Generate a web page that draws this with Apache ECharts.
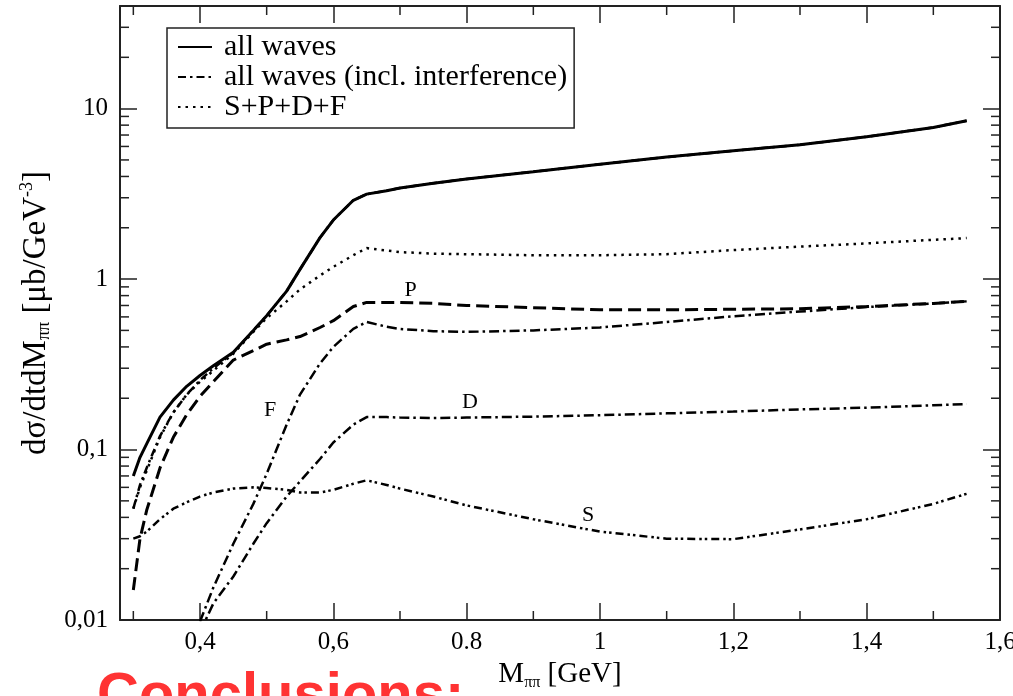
<!DOCTYPE html>
<html>
<head>
<meta charset="utf-8">
<script src="https://cdn.jsdelivr.net/npm/echarts@6/dist/echarts.min.js"></script>
<style>
  html, body { margin: 0; padding: 0; background: #fff; }
  #chart { width: 1013px; height: 696px; }
</style>
</head>
<body>
<div id="chart"></div>
<script>
// M_pipi grid (GeV)
const mass = [0.3, 0.31, 0.32, 0.34, 0.36, 0.38, 0.4, 0.42, 0.45, 0.48, 0.5, 0.53, 0.55, 0.58, 0.6,
  0.63, 0.65, 0.68, 0.7, 0.75, 0.8, 0.9, 1.0, 1.1, 1.2, 1.3, 1.4, 1.5, 1.55]

// cross sections (mub/GeV^3)
const allWaves = [0.070, 0.090, 0.108, 0.155, 0.195, 0.235, 0.272, 0.31, 0.372, 0.50, 0.61, 0.85, 1.14, 1.75, 2.22,
  2.9, 3.15, 3.3, 3.42, 3.65, 3.87, 4.26, 4.72, 5.2, 5.66, 6.14, 6.84, 7.75, 8.5]
const allWavesInterf = [0.045, 0.062, 0.078, 0.12, 0.165, 0.21, 0.255, 0.30, 0.37, 0.50, 0.61, 0.85, 1.14, 1.75, 2.22,
  2.9, 3.15, 3.3, 3.42, 3.65, 3.87, 4.26, 4.72, 5.2, 5.66, 6.14, 6.84, 7.75, 8.5]
const spdf = [0.045, 0.06, 0.075, 0.118, 0.165, 0.21, 0.25, 0.29, 0.365, 0.49, 0.59, 0.74, 0.87, 1.05, 1.18,
  1.38, 1.52, 1.47, 1.44, 1.41, 1.40, 1.38, 1.38, 1.40, 1.48, 1.55, 1.62, 1.70, 1.74]
const pWave = [0.015, 0.030, 0.044, 0.078, 0.118, 0.16, 0.205, 0.25, 0.335, 0.38, 0.415, 0.44, 0.46, 0.52, 0.57,
  0.69, 0.73, 0.73, 0.73, 0.72, 0.70, 0.68, 0.66, 0.66, 0.665, 0.67, 0.69, 0.72, 0.74]
const fWave = [null, null, null, null, null, null, 0.0098, 0.0155, 0.028, 0.048, 0.072, 0.14, 0.21, 0.32, 0.40,
  0.51, 0.56, 0.525, 0.51, 0.495, 0.49, 0.50, 0.52, 0.56, 0.605, 0.645, 0.685, 0.72, 0.74]
const dWave = [null, null, null, null, null, null, 0.0085, 0.0125, 0.018, 0.028, 0.037, 0.053, 0.065, 0.088, 0.11,
  0.14, 0.155, 0.155, 0.154, 0.153, 0.154, 0.156, 0.159, 0.163, 0.167, 0.172, 0.176, 0.182, 0.185]
const sWave = [0.030, 0.031, 0.033, 0.039, 0.045, 0.049, 0.053, 0.056, 0.059, 0.060, 0.0595, 0.058, 0.056, 0.056, 0.058,
  0.063, 0.066, 0.062, 0.059, 0.053, 0.047, 0.039, 0.033, 0.030, 0.0298, 0.034, 0.039, 0.048, 0.055]

// axes
const xTickValues = [0.4, 0.6, 0.8, 1, 1.2, 1.4, 1.6]
const xTickLabels = ['0,4', '0,6', '0.8', '1', '1,2', '1,4', '1,6']
const xMinorTicks = [0.3, 0.5, 0.7, 0.9, 1.1, 1.3, 1.5]
const yTickValues = [0.01, 0.1, 1, 10]
const yTickLabels = ['0,01', '0,1', '1', '10']
const yMinorTicks = [0.02, 0.03, 0.04, 0.05, 0.06, 0.07, 0.08, 0.09, 0.2, 0.3, 0.4, 0.5, 0.6, 0.7, 0.8, 0.9,
  2, 3, 4, 5, 6, 7, 8, 9, 20, 30]

const X_MIN = 0.28
const X_MAX = 1.6
const Y_MIN = 0.01
const Y_MAX = 40

const SERIF = '"Liberation Serif", "DejaVu Serif", serif'
const INK = '#222'

function pick(values, labels) {
  return function(v) {
    const i = values.findIndex(t => Math.abs(v - t) < Math.abs(t) * 1e-6)
    return i < 0 ? '' : labels[i]
  }
}

function pairs(ys) {
  return mass.map((x, i) => [x, ys[i]])
}

function curve(name, ys, width, type) {
  return {
    name: name,
    type: 'line',
    data: pairs(ys),
    showSymbol: false,
    symbol: 'none',
    connectNulls: false,
    lineStyle: { color: '#000', width: width, type: type },
    itemStyle: { color: '#000' }
  }
}

function waveLabel(series, text, coord) {
  series.markPoint = {
    symbol: 'rect',
    symbolSize: 1,
    itemStyle: { color: 'rgba(0,0,0,0)' },
    label: {
      show: true,
      position: 'inside',
      formatter: text,
      color: '#000',
      fontSize: 22,
      fontFamily: SERIF
    },
    data: [{ coord: coord }]
  }
  return series
}

const tickStyle = { stroke: INK, lineWidth: 1.5 }

function yMinorItem(params, api) {
  const v = api.value(1)
  const a = api.coord([X_MIN, v])
  const b = api.coord([X_MAX, v])
  return {
    type: 'group',
    children: [
      { type: 'line', shape: { x1: a[0], y1: a[1], x2: a[0] + 9, y2: a[1] }, style: tickStyle },
      { type: 'line', shape: { x1: b[0] - 9, y1: b[1], x2: b[0], y2: b[1] }, style: tickStyle }
    ]
  }
}

function xMinorItem(params, api) {
  const x = api.value(0)
  const a = api.coord([x, Y_MIN])
  const b = api.coord([x, Y_MAX])
  return {
    type: 'group',
    children: [
      { type: 'line', shape: { x1: a[0], y1: a[1], x2: a[0], y2: a[1] - 9 }, style: tickStyle },
      { type: 'line', shape: { x1: b[0], y1: b[1], x2: b[0], y2: b[1] + 9 }, style: tickStyle }
    ]
  }
}

const chart = echarts.init(document.getElementById('chart'), null, { renderer: 'canvas' })

const axisLine = { show: true, onZero: false, lineStyle: { color: INK, width: 2 } }
const majorTick = { show: true, inside: true, length: 17, lineStyle: { color: INK, width: 1.5 } }

chart.setOption({
  animation: false,
  backgroundColor: '#fff',
  grid: { left: 120, right: 13, top: 6, bottom: 76, outerBoundsMode: 'none', containLabel: false },
  legend: {
    orient: 'vertical',
    left: 167,
    top: 28,
    padding: [4, 7, 6, 10],
    itemWidth: 34,
    itemHeight: 14,
    itemGap: 0,
    borderColor: INK,
    borderWidth: 1.5,
    borderRadius: 0,
    itemStyle: { opacity: 0 },
    data: ['all waves', 'all waves (incl. interference)', 'S+P+D+F'],
    textStyle: { color: '#000', fontSize: 30, lineHeight: 30, fontFamily: SERIF, padding: [0, 0, 0, 7] }
  },
  xAxis: [{
    type: 'value',
    min: X_MIN,
    max: X_MAX,
    splitNumber: 6,
    position: 'bottom',
    name: 'M{sub|ππ} [GeV]',
    nameLocation: 'middle',
    nameGap: 35,
    nameTextStyle: {
      color: '#000', fontSize: 29, fontFamily: SERIF,
      rich: { sub: { fontSize: 16, fontFamily: SERIF, color: '#000', padding: [16, 0, 0, 0] } }
    },
    axisLine: axisLine,
    axisTick: majorTick,
    splitLine: { show: false },
    axisLabel: {
      color: '#000', fontSize: 25, fontFamily: SERIF, margin: 10,
      formatter: pick(xTickValues, xTickLabels)
    }
  }, {
    type: 'value',
    min: X_MIN,
    max: X_MAX,
    splitNumber: 6,
    position: 'top',
    axisLine: axisLine,
    axisTick: majorTick,
    splitLine: { show: false },
    axisLabel: { show: false }
  }],
  yAxis: [{
    type: 'log',
    logBase: 10,
    min: Y_MIN,
    max: Y_MAX,
    position: 'left',
    name: 'dσ/dtdM{sub|ππ} [μb/GeV{sup|-3}]',
    nameLocation: 'middle',
    nameRotate: 90,
    nameGap: 66,
    nameTextStyle: {
      color: '#000', fontSize: 33, fontFamily: SERIF,
      rich: {
        sub: { fontSize: 18, fontFamily: SERIF, color: '#000', padding: [17, 0, 0, 0] },
        sup: { fontSize: 18, fontFamily: SERIF, color: '#000', padding: [0, 0, 17, 0] }
      }
    },
    axisLine: axisLine,
    axisTick: majorTick,
    splitLine: { show: false },
    axisLabel: {
      color: '#000', fontSize: 25, fontFamily: SERIF, margin: 12,
      formatter: pick(yTickValues, yTickLabels)
    }
  }, {
    type: 'log',
    logBase: 10,
    min: Y_MIN,
    max: Y_MAX,
    position: 'right',
    axisLine: axisLine,
    axisTick: majorTick,
    splitLine: { show: false },
    axisLabel: { show: false }
  }],
  series: [
    curve('all waves (incl. interference)', allWavesInterf, 2.5, [8, 4, 2.5, 4]),
    curve('S+P+D+F', spdf, 2.5, [2.5, 5]),
    waveLabel(curve('P', pWave, 3, [13, 6]), 'P', [0.716, 0.86]),
    waveLabel(curve('F', fWave, 2.5, [10, 4, 2.5, 4]), 'F', [0.505, 0.17]),
    waveLabel(curve('D', dWave, 2.5, [10, 4, 2.5, 4]), 'D', [0.805, 0.19]),
    waveLabel(curve('S', sWave, 2.5, [8, 4, 2.5, 3, 2.5, 4]), 'S', [0.982, 0.041]),
    curve('all waves', allWaves, 3, 'solid'),
    {
      type: 'custom',
      silent: true,
      renderItem: yMinorItem,
      data: yMinorTicks.map(v => [X_MIN, v]),
      z: 5
    },
    {
      type: 'custom',
      silent: true,
      renderItem: xMinorItem,
      data: xMinorTicks.map(x => [x, Y_MAX]),
      z: 5
    }
  ],
  graphic: [{
    type: 'text',
    left: 97,
    top: 668,
    style: {
      text: 'Conclusions:',
      font: 'bold 58px "Liberation Sans", Arial, sans-serif',
      fill: '#ff3333'
    }
  }]
})
</script>
</body>
</html>
